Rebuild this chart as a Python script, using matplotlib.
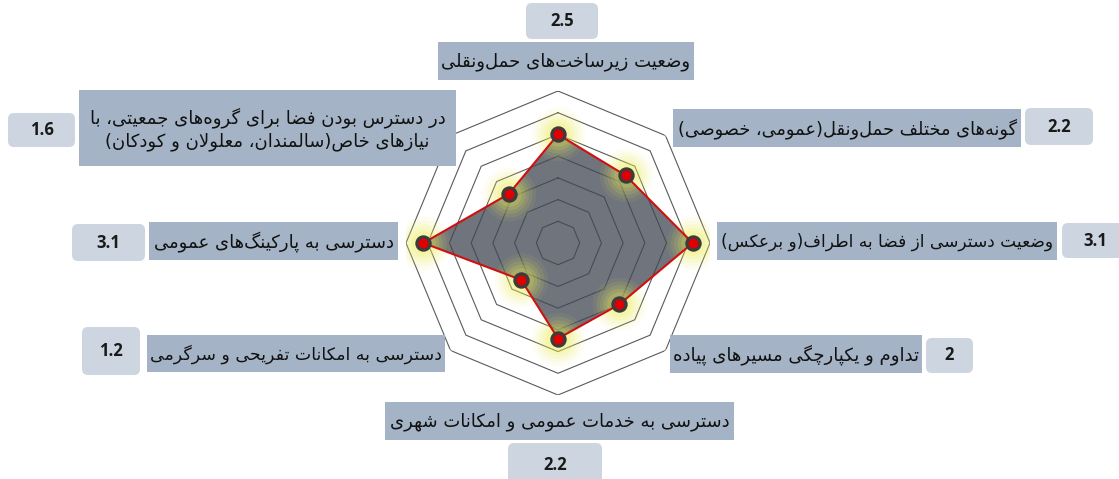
import numpy as np
import matplotlib.pyplot as plt
from matplotlib.patches import Rectangle, FancyBboxPatch

# criteria, clockwise from the top
labels = [
    "وضعیت زیرساخت‌های حمل‌ونقلی",
    "گونه‌های مختلف حمل‌ونقل(عمومی، خصوصی)",
    "وضعیت دسترسی از فضا به اطراف(و برعکس)",
    "تداوم و یکپارچگی مسیرهای پیاده",
    "دسترسی به خدمات عمومی و امکانات شهری",
    "دسترسی به امکانات تفریحی و سرگرمی",
    "دسترسی به پارکینگ‌های عمومی",
    "در دسترس بودن فضا برای گروه‌های جمعیتی، با\nنیازهای خاص(سالمندان، معلولان و کودکان)",
]
values = [2.5, 2.2, 3.1, 2, 2.2, 1.2, 3.1, 1.6]
ring_levels = [0.5, 1.0, 1.5, 2.0, 2.5, 3.0, 3.5]

# minimal Persian shaping (matplotlib has no complex text layout)
DUAL = {'ب': 0xFE8F, 'ت': 0xFE95, 'ث': 0xFE99, 'ج': 0xFE9D, 'ح': 0xFEA1,
        'خ': 0xFEA5, 'س': 0xFEB1, 'ش': 0xFEB5, 'ص': 0xFEB9, 'ض': 0xFEBD,
        'ط': 0xFEC1, 'ظ': 0xFEC5, 'ع': 0xFEC9, 'غ': 0xFECD, 'ف': 0xFED1,
        'ق': 0xFED5, 'ل': 0xFEDD, 'م': 0xFEE1, 'ن': 0xFEE5, 'ه': 0xFEE9,
        'پ': 0xFB56, 'چ': 0xFB7A, 'ک': 0xFB8E, 'گ': 0xFB92, 'ی': 0xFBFC}
RIGHT = {'ا': 0xFE8D, 'د': 0xFEA9, 'ذ': 0xFEAB, 'ر': 0xFEAD, 'ز': 0xFEAF,
         'ژ': 0xFB8A, 'و': 0xFEED}
MIRROR = {'(': ')', ')': '('}


def shape_line(s):
    s = s.replace('ي', 'ی').replace('ك', 'ک')
    out = []
    i = 0
    n = len(s)
    while i < n:
        c = s[i]
        prev = s[i - 1] if i > 0 else ''
        if c == 'ل' and i + 1 < n and s[i + 1] == 'ا':
            out.append('\uFEFC' if prev in DUAL else '\uFEFB')
            i += 2
            continue
        if c not in DUAL and c not in RIGHT:
            if c != '\u200c':
                out.append(MIRROR.get(c, c))
            i += 1
            continue
        nxt = s[i + 1] if i + 1 < n else ''
        p = prev in DUAL
        q = c in DUAL and (nxt in DUAL or nxt in RIGHT)
        if c in DUAL:
            off = 3 if (p and q) else 2 if q else 1 if p else 0
            out.append(chr(DUAL[c] + off))
        else:
            out.append(chr(RIGHT[c] + (1 if p else 0)))
        i += 1
    return ''.join(reversed(out))


def shape(s):
    return '\n'.join(shape_line(l) for l in s.split('\n'))


# label boxes (x0, y0, x1, y1) in pixels, same order as labels
label_boxes = [(438, 42, 694, 80), (673, 109, 1021, 147), (717, 222, 1057, 260),
               (670, 335, 922, 373), (385, 402, 734, 440), (147, 335, 445, 372),
               (149, 222, 398, 260), (79, 90, 456, 166)]
value_boxes = [(526, 3, 598, 39), (1025, 108, 1093, 145), (1062, 223, 1128, 258),
               (926, 338, 973, 373), (508, 443, 602, 486), (82, 327, 140, 375),
               (72, 224, 145, 261), (8, 113, 75, 147)]

W, H = 1119, 479
fig = plt.figure(figsize=(W / 100, H / 100), dpi=100)

cx, cy, R = 558, 243, 152
ax = fig.add_axes([(cx - R) / W, 1 - (cy + R) / H, 2 * R / W, 2 * R / H],
                  projection='polar')
ax.set_theta_zero_location('N')
ax.set_theta_direction(-1)
ax.set_ylim(0, 3.5)
ax.grid(False)
ax.set_xticks([])
ax.set_yticks([])
ax.spines['polar'].set_visible(False)

n = len(values)
angles = np.linspace(0, 2 * np.pi, n, endpoint=False)
ang_c = np.append(angles, angles[0])
val_c = np.append(values, values[0])

for r in ring_levels:
    ax.plot(ang_c, [r] * (n + 1), color='#5a5a5a', lw=0.8, zorder=2)

ax.fill(ang_c, val_c, color='#3f4652', alpha=0.75, zorder=3, lw=0)

# soft yellow glow around points
for s, a in zip([1500, 1100, 780, 520, 320], [0.07, 0.09, 0.12, 0.15, 0.18]):
    ax.scatter(angles, values, s=s, color='#ecec50', alpha=a, lw=0, zorder=4)

ax.plot(ang_c, val_c, color='#d01010', lw=1.5, zorder=5)
ax.plot(angles, values, 'o', ms=9.5, mfc='#e00000', mec='#3c3c3c', mew=2.3,
        zorder=6, linestyle='none')

# overlay for label boxes
ov = fig.add_axes([0, 0, 1, 1], zorder=10)
ov.set_xlim(0, W)
ov.set_ylim(H, 0)
ov.axis('off')

renderer = fig.canvas.get_renderer()
for lab, (x0, y0, x1, y1) in zip(labels, label_boxes):
    ov.add_patch(Rectangle((x0, y0), x1 - x0, y1 - y0, color='#a4b4c6', lw=0))
    t = ov.text((x0 + x1) / 2, (y0 + y1) / 2 + 1, shape(lab), ha='center',
                va='center', fontsize=13, family='DejaVu Sans', color='#111111',
                linespacing=1.35)
    # shrink a little if the text runs past its box
    while t.get_window_extent(renderer).width > (x1 - x0) - 4:
        t.set_fontsize(t.get_fontsize() - 0.25)

for v, (x0, y0, x1, y1) in zip(values, value_boxes):
    ov.add_patch(FancyBboxPatch((x0, y0), x1 - x0, y1 - y0,
                                boxstyle='round,pad=0,rounding_size=6',
                                fc='#cdd6e0', ec='none'))
    ov.text((x0 + x1) / 2, (y0 + y1) / 2, f'{v:g}', ha='center', va='center',
            fontsize=12, fontweight='bold', family='Open Sans', color='#1a1a1a')

fig.savefig('out.png', dpi=100)
